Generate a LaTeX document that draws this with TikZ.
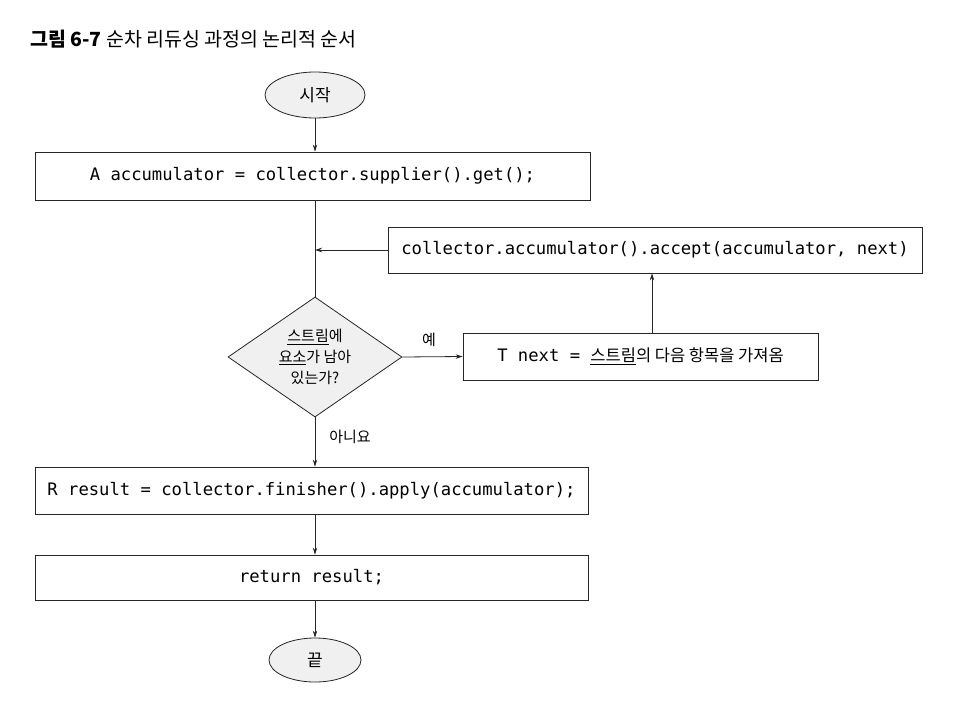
\documentclass[tikz,border=0pt]{standalone}
\usepackage{fontspec}
\setmainfont{Noto Sans CJK KR}
\newfontfamily\codefont{DejaVu Sans Mono}
\usetikzlibrary{shapes.geometric,arrows.meta}
\begin{document}
\begin{tikzpicture}[x=1pt,y=-1pt,
  codebox/.style={draw=black!85, line width=0.8pt, rectangle, inner sep=0pt,
    font=\codefont\fontsize{17.2}{20}\selectfont},
  term/.style={ellipse, draw=black!85, line width=0.8pt, fill=gray!12, inner sep=0pt,
    font=\fontsize{17}{20}\selectfont},
  lbl/.style={font=\fontsize{15}{21}\selectfont, inner sep=0pt},
  conn/.style={line width=0.8pt, draw=black!85},
  arr/.style={conn, -{Stealth[length=7pt,width=4.5pt]}}]
\useasboundingbox (0,0) rectangle (960,703);
\fill[white] (0,0) rectangle (960,703);
\node[anchor=base west, inner sep=0pt, font=\fontsize{19.5}{22}\selectfont] (title) at (30,47)
  {\textbf{그림 6-7} 순차 리듀싱 과정의 논리적 순서};
\node[term, minimum width=100pt, minimum height=46pt] (start) at (315,95) {시작};
\node[codebox, minimum width=555pt, minimum height=48pt] (init) at (312.5,176)
  {A accumulator = collector.supplier().get();};
\node[codebox, minimum width=534pt, minimum height=46pt] (acc) at (655,250)
  {collector.accumulator().accept(accumulator, next)};
\node[diamond, draw=black!85, line width=0.8pt, fill=gray!12, inner sep=0pt,
  minimum width=174pt, minimum height=120pt] (dec) at (315,357) {};
\node[lbl, align=center] (dectext) at (dec.center)
  {\underline{스트림}에\\\underline{요소}가 남아\\있는가?};
\node[codebox, minimum width=355pt, minimum height=47pt] (next) at (640.5,356.5)
  {T next = {\rmfamily\fontsize{16.5}{20}\selectfont\underline{스트림}의 다음 항목을 가져옴}};
\node[codebox, minimum width=553pt, minimum height=47pt] (fin) at (311.5,490.5)
  {R result = collector.finisher().apply(accumulator);};
\node[codebox, minimum width=553pt, minimum height=45pt] (ret) at (311.5,577.5)
  {return result;};
\node[term, minimum width=92pt, minimum height=44pt] (end) at (315,660) {끝};
\node[lbl] (yes) at (429,340) {예};
\node[lbl] (no) at (350,437) {아니요};
% connectors
\draw[arr] (start.south) -- (start.south |- init.north);
\draw[conn] (start.south |- init.south) -- (dec.north);
\draw[arr] (acc.west) -- (acc.west -| dec.north);
\draw[arr] (dec.east) -- (next.west);
\draw[arr] ([xshift=11.5pt]next.north) -- ([xshift=11.5pt]next.north |- acc.south);
\draw[arr] (dec.south) -- (dec.south |- fin.north);
\draw[arr] (fin.south -| dec.south) -- (ret.north -| dec.south);
\draw[arr] (ret.south -| dec.south) -- (end.north);
\end{tikzpicture}
\end{document}
